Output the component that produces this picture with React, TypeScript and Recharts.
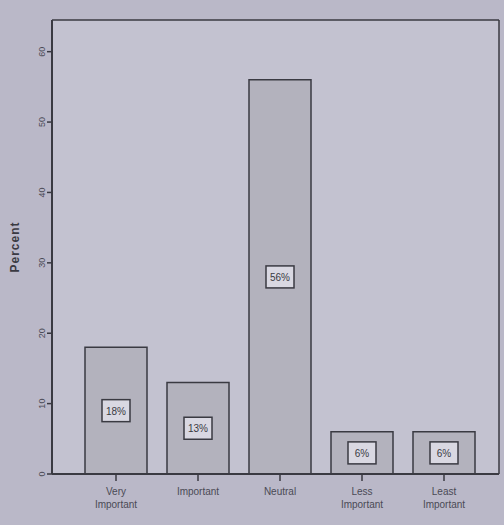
import { BarChart, Bar, XAxis, YAxis, CartesianGrid, LabelList } from "recharts";

const categories = ["Very Important", "Important", "Neutral", "Less Important", "Least Important"];
const percents = [18, 13, 56, 6, 6];
const yTicks = [0, 10, 20, 30, 40, 50, 60];

const data = categories.map((name, i) => ({ name, percent: percents[i] }));

const FONT = "'Liberation Sans', Arial, sans-serif";

function CategoryTick(props: any) {
  const { x, y, payload } = props;
  const words = String(payload.value).split(" ");
  return (
    <g transform={`translate(${x},${y})`}>
      <text textAnchor="middle" fontFamily={FONT} fontSize={10} fill="#4a4a55">
        {words.map((w: string, i: number) => (
          <tspan key={i} x={0} dy={i === 0 ? 12 : 13}>
            {w}
          </tspan>
        ))}
      </text>
    </g>
  );
}

function PercentTick(props: any) {
  const { x, y, payload } = props;
  return (
    <text
      x={x}
      y={y}
      transform={`rotate(-90 ${x} ${y})`}
      textAnchor="middle"
      fontFamily={FONT}
      fontSize={9}
      fill="#4a4a55"
    >
      {payload.value}
    </text>
  );
}

function ValueBox(props: any) {
  const { x, y, width, height, value } = props;
  const cx = x + width / 2;
  const cy = y + height / 2;
  const w = 28;
  const h = 22;
  return (
    <g>
      <rect x={cx - w / 2} y={cy - h / 2} width={w} height={h} fill="#d9d8e2" stroke="#3a3a42" strokeWidth={1.5} />
      <text x={cx} y={cy + 4} textAnchor="middle" fontFamily={FONT} fontSize={10} fill="#3a3a42">
        {value}%
      </text>
    </g>
  );
}

export default function App() {
  return (
    <div style={{ position: "absolute", left: 0, top: 0, width: 504, height: 525, background: "#bab8c8" }}>
      <BarChart
        width={504}
        height={525}
        data={data}
        margin={{ top: 20, right: 5, bottom: 1, left: 12 }}
        barSize={62}
      >
        {/* plot frame: filled background, top edge and right edge */}
        <CartesianGrid
          fill="#c3c2d0"
          fillOpacity={1}
          stroke="#3a3a42"
          strokeWidth={1.5}
          strokeDasharray="0"
          horizontalCoordinatesGenerator={({ offset }: any) => [offset.top]}
          verticalCoordinatesGenerator={({ offset }: any) => [offset.left + offset.width]}
        />
        <XAxis
          dataKey="name"
          height={50}
          padding={{ left: 23, right: 14 }}
          tick={<CategoryTick />}
          tickSize={7}
          axisLine={{ stroke: "#3a3a42", strokeWidth: 2 }}
          tickLine={{ stroke: "#3a3a42", strokeWidth: 1.5 }}
          interval={0}
        />
        <YAxis
          width={40}
          domain={[0, 64.5]}
          ticks={yTicks}
          tick={<PercentTick />}
          tickSize={5}
          axisLine={{ stroke: "#3a3a42", strokeWidth: 2 }}
          tickLine={{ stroke: "#3a3a42", strokeWidth: 1.5 }}
          label={{
            value: "Percent",
            angle: -90,
            position: "insideLeft",
            offset: 3,
            style: { fontFamily: FONT, fontSize: 12, fontWeight: "bold", fill: "#3a3a42", letterSpacing: 1, textAnchor: "middle" },
          }}
        />
        <Bar dataKey="percent" fill="#b3b2bd" stroke="#3a3a42" strokeWidth={1.5} isAnimationActive={false}>
          <LabelList dataKey="percent" content={<ValueBox />} />
        </Bar>
      </BarChart>
    </div>
  );
}
